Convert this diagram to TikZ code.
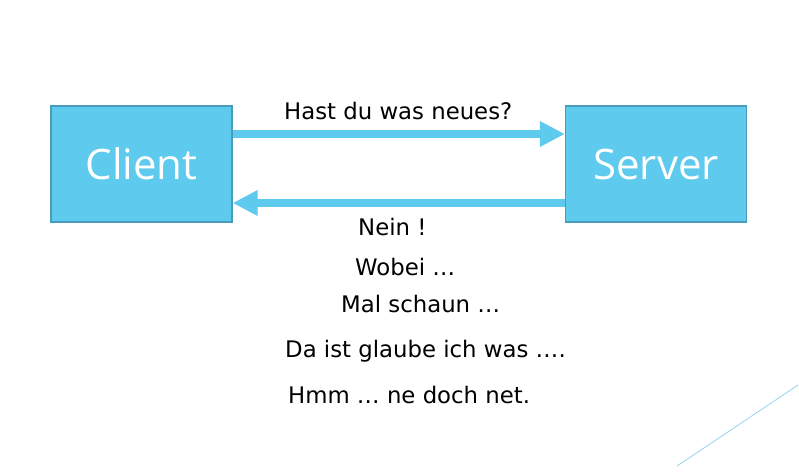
\documentclass[tikz,border=0pt]{standalone}
\usepackage{fontspec}
\setmainfont{DejaVu Sans}
\newfontfamily\boxfont{Open Sans}
\usetikzlibrary{arrows.meta}
\definecolor{boxfill}{RGB}{94,202,238}
\definecolor{boxedge}{RGB}{72,158,186}
\definecolor{arrowc}{RGB}{94,202,238}
\definecolor{decoline}{RGB}{150,212,240}
\tikzset{
  machine/.style={draw=boxedge, line width=1.2pt, fill=boxfill, minimum width=181pt, minimum height=116pt, inner sep=0pt, text=white, font=\boxfont\fontsize{42}{50}\selectfont},
  msg/.style={anchor=base west, inner sep=0pt, font=\fontsize{22.8}{26}\selectfont},
  flow/.style={draw=arrowc, line width=7.5pt, -{Triangle[length=25pt,width=24pt]}}
}
\begin{document}
\begin{tikzpicture}[x=1pt,y=-1pt]
\useasboundingbox (0,0) rectangle (799,471);
\fill[white] (0,0) rectangle (799,471);
\node[machine] (client) at (141.5,164) {Client};
\node[machine] (server) at (656,164) {Server};
\coordinate (a1) at (0,134);
\coordinate (a2) at (0,203);
\draw[flow] (client.east |- a1) -- (server.west |- a1);
\draw[flow] (server.west |- a2) -- (client.east |- a2);
\node[msg] (q) at (284,119) {Hast du was neues?};
\node[msg] (r1) at (358,235) {Nein !};
\node[msg] (r2) at (355,275) {Wobei …};
\node[msg] (r3) at (341,312) {Mal schaun …};
\node[msg] (r4) at (285,357) {Da ist glaube ich was ….};
\node[msg] (r5) at (288,403) {Hmm … ne doch net.};
\coordinate (d1) at (677,466);
\coordinate (d2) at (798,385);
\draw[decoline, line width=0.8pt] (d1) -- (d2);
\end{tikzpicture}
\end{document}
